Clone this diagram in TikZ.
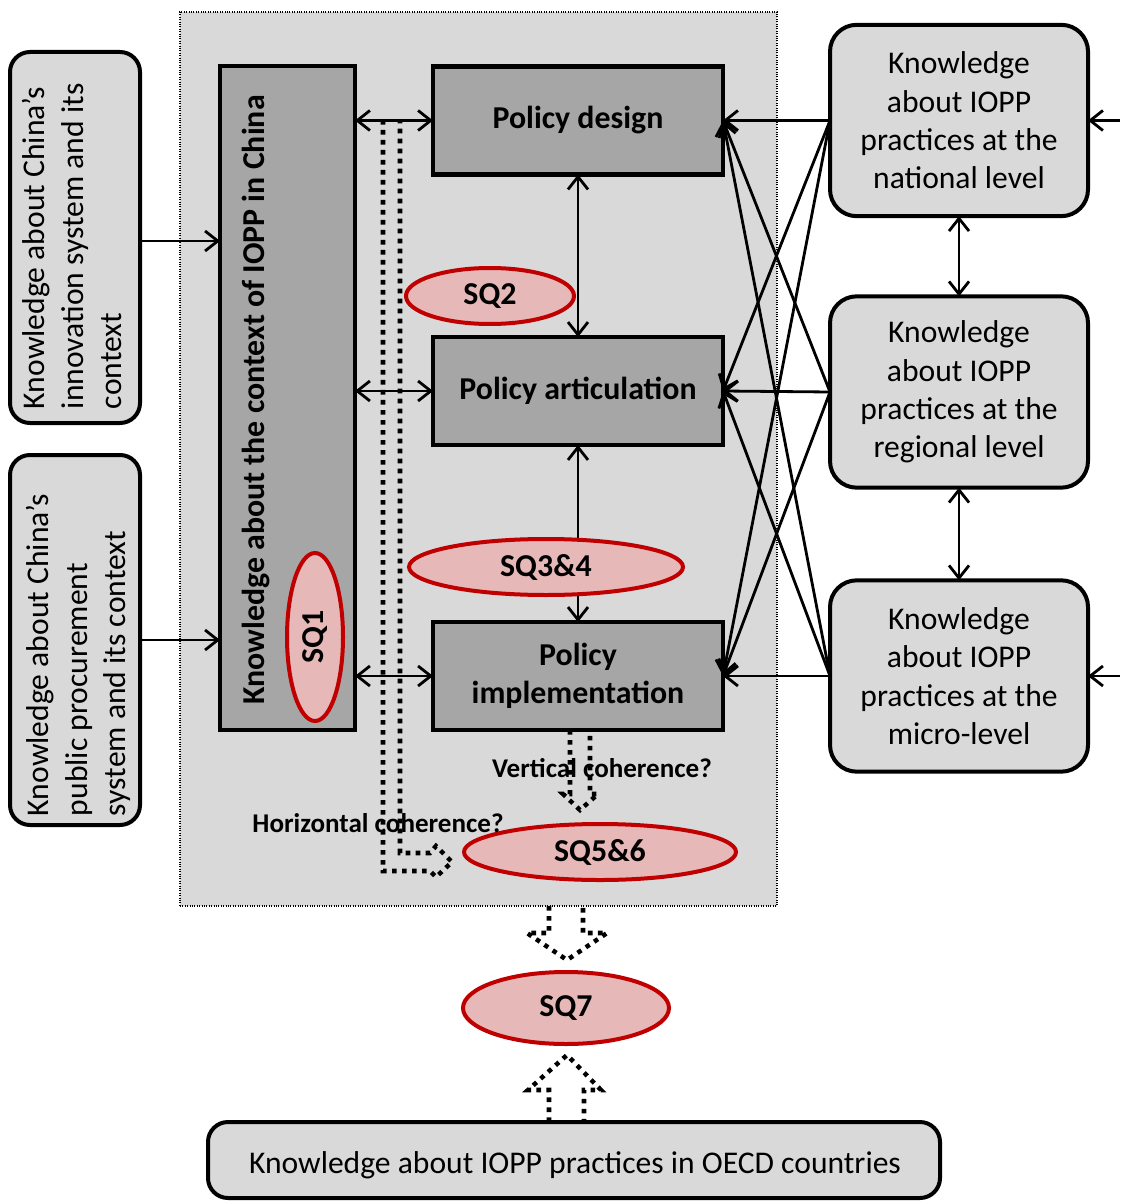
\documentclass[tikz,border=0pt]{standalone}
\usepackage{fontspec}
\setmainfont{Carlito}
\usetikzlibrary{arrows.meta,shapes.geometric,calc}
\definecolor{panel}{HTML}{D9D9D9}
\definecolor{dark}{HTML}{A6A6A6}
\definecolor{sqfill}{HTML}{E6B8B7}
\definecolor{sqline}{HTML}{C00000}
\begin{document}
\begin{tikzpicture}[x=0.75pt,y=-0.75pt,
  every node/.style={inner sep=0pt, outer sep=0pt},
  txt/.style={font=\fontsize{23.7}{28.8}\selectfont},
  bold/.style={font=\fontsize{23.9}{28.8}\selectfont\bfseries},
  small/.style={font=\fontsize{20.3}{24}\selectfont\bfseries},
  knowbox/.style={draw, line width=3pt, fill=panel, rounded corners=15pt},
  policybox/.style={draw, line width=3.2pt, fill=dark, minimum width=217.5pt, minimum height=81pt, bold, align=center},
  sq/.style={ellipse, draw=sqline, line width=3pt, fill=sqfill, bold},
  link/.style={line width=2.1pt, -{Straight Barb[length=9.5pt,width=15pt]}},
  twoway/.style={line width=2.1pt, {Straight Barb[length=9.5pt,width=15pt]}-{Straight Barb[length=9.5pt,width=15pt]}},
  blockarrow/.style={line width=3.4pt, dash pattern=on 3.4pt off 4.1pt, line join=miter}
]
\useasboundingbox (0,0) rectangle (1120,1201);

% grey panel holding the Chinese policy process
\node[draw, densely dotted, line width=0.8pt, fill=panel,
      minimum width=447.75pt, minimum height=670.5pt] (frame) at (478.5,459) {};

% knowledge inputs on the left
\node[knowbox, minimum width=97.5pt, minimum height=278.25pt] (lbox1) at (75,237.5) {};
\node[txt, rotate=90, anchor=west, align=left] (lbox1text) at (72,409)
  {Knowledge about China’s\\innovation system and its\\context};
\node[knowbox, minimum width=97.5pt, minimum height=277.5pt] (lbox2) at (75,640) {};
\node[txt, rotate=90, anchor=west, align=left] (lbox2text) at (78.5,816)
  {Knowledge about China’s\\public procurement\\system and its context};

% context column
\node[draw, line width=3.2pt, fill=dark, minimum width=101.25pt, minimum height=498pt] (ctx) at (287.5,398) {};
\node[bold, rotate=90] (ctxtext) at (256,400) {Knowledge about the context of IOPP in China};

% policy stages
\node[policybox] (design) at (578,120.5) {Policy design};
\node[policybox] (artic) at (578,391) {Policy articulation};
\node[policybox] (impl) at (578,676) {Policy\\implementation};

% knowledge about IOPP practices on the right
\begin{scope}[every node/.append style={knowbox, rounded corners=20pt, minimum width=193.5pt, minimum height=143.5pt, txt, align=center}]
\node (r1) at (959,120.5) {Knowledge\\about IOPP\\practices at the\\national level};
\node (r2) at (959,392) {Knowledge\\about IOPP\\practices at the\\regional level};
\node (r3) at (959,676) {Knowledge\\about IOPP\\practices at the\\micro-level};
\end{scope}

% OECD knowledge at the bottom
\node[knowbox, minimum width=549pt, minimum height=57pt] (oecd) at (574,1160) {};
\node[txt] (oecdtext) at (575,1165) {Knowledge about IOPP practices in OECD countries};

% connectors
\draw[link] ($(lbox1.east)+(0,3.5)$) -- (ctx.west |- {$(lbox1.east)+(0,3.5)$});
\draw[link] (lbox2.east) -- (ctx.west |- lbox2.east);
\draw[twoway] (ctx.east |- design.west) -- (design.west);
\draw[twoway] (ctx.east |- artic.west) -- (artic.west);
\draw[twoway] (ctx.east |- impl.west) -- (impl.west);
\draw[twoway] (design.south) -- (artic.north);
\draw[twoway] (artic.south) -- (impl.north);
\draw[twoway] (r1.south) -- (r2.north);
\draw[twoway] (r2.south) -- (r3.north);
\coordinate (in1) at (1120,120.5);
\coordinate (in3) at (1120,676);
\draw[link] (in1) -- (r1.east);
\draw[link] (in3) -- (r3.east);
\foreach \src in {r1,r2,r3}
  \foreach \dst in {design,artic,impl}
    \draw[link] (\src.west) -- (\dst.east);

% research questions
\node[sq, minimum width=42pt, minimum height=126pt] (sq1) at (315,637) {};
\node[bold, rotate=90] (sq1text) at (315,637) {SQ1};
\node[sq, minimum width=126pt, minimum height=42pt] (sq2) at (490,296) {SQ2};
\node[sq, minimum width=205.5pt, minimum height=42pt] (sq34) at (546,567) {SQ3\&4};
\node[sq, minimum width=204pt, minimum height=42pt] (sq56) at (600,852) {SQ5\&6};
\node[sq, minimum width=154.5pt, minimum height=54pt] (sq7) at (566,1008) {SQ7};

% dotted block arrows
\draw[blockarrow] (383,120) -- (383,871) -- (430,871) -- (436,877) -- (452,862)
  -- (436,846) -- (430,853) -- (400,853) -- (400,120);
\draw[blockarrow] (570,730) -- (570,794) -- (563,794) -- (580,810) -- (598,794)
  -- (590,794) -- (590,730);
\draw[blockarrow] (549,906) -- (549,933) -- (527,933) -- (567,960) -- (607,933)
  -- (583,933) -- (583,906);
\draw[blockarrow] (549,1122) -- (549,1090) -- (528,1090) -- (567,1055) -- (601,1090)
  -- (584,1090) -- (584,1122);

% coherence labels
\node[small] (vlabel) at (602,768) {Vertical coherence?};
\node[small] (hlabel) at (378,823) {Horizontal coherence?};
\end{tikzpicture}
\end{document}
